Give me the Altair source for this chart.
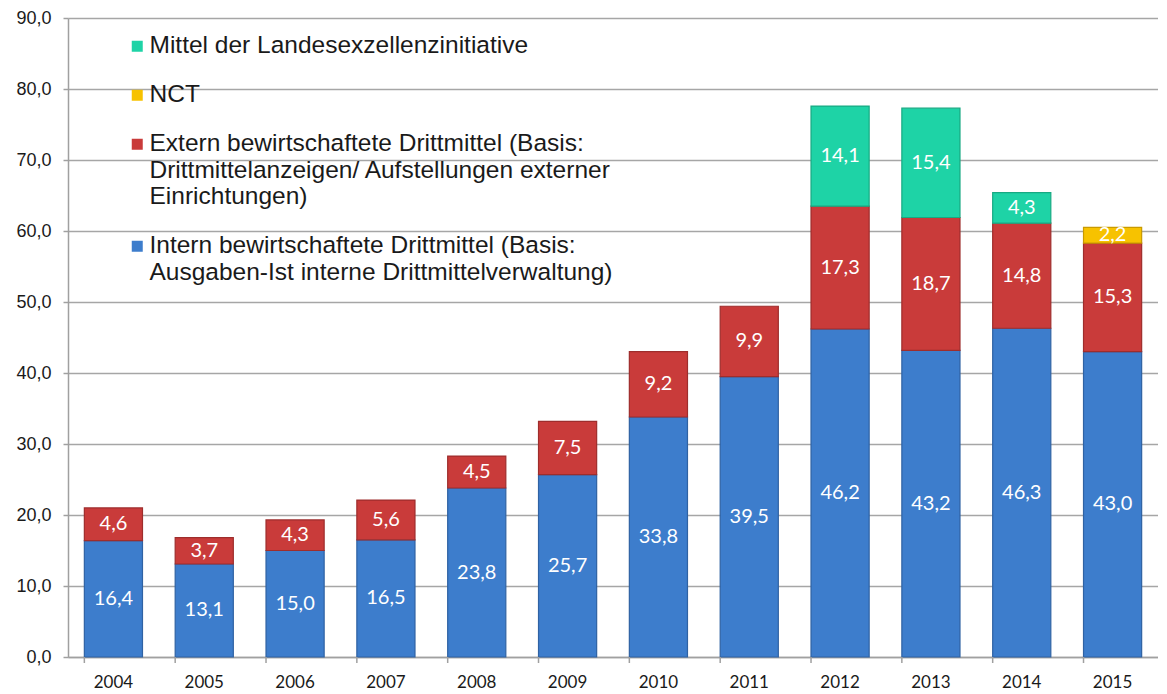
import altair as alt
import pandas as pd

years = [str(y) for y in range(2004, 2016)]
intern = [16.4, 13.1, 15.0, 16.5, 23.8, 25.7, 33.8, 39.5, 46.2, 43.2, 46.3, 43.0]
extern = [4.6, 3.7, 4.3, 5.6, 4.5, 7.5, 9.2, 9.9, 17.3, 18.7, 14.8, 15.3]
nct = [0, 0, 0, 0, 0, 0, 0, 0, 0, 0, 0, 2.2]
landes = [0, 0, 0, 0, 0, 0, 0, 0, 14.1, 15.4, 4.3, 0]

series_names = [
    "Mittel der Landesexzellenzinitiative",
    "NCT",
    "Extern bewirtschaftete Drittmittel (Basis:|Drittmittelanzeigen/ Aufstellungen externer|Einrichtungen)",
    "Intern bewirtschaftete Drittmittel (Basis:|Ausgaben-Ist interne Drittmittelverwaltung)",
]
series_colors = ["#1ed3a6", "#f7c200", "#c93b3a", "#3d7dcc"]
series_strokes = ["#17a982", "#c99a00", "#9e2d2c", "#2f62a3"]
stack_order = [3, 2, 1, 0]
series_values = [landes, nct, extern, intern]

rows = []
for name, vals, order in zip(series_names, series_values, stack_order):
    for yr, v in zip(years, vals):
        if v > 0:
            rows.append({"year": yr, "series": name, "value": v, "order": order})
df = pd.DataFrame(rows)

base = alt.Chart(df).transform_stack(
    stack="value", groupby=["year"], as_=["y0", "y1"],
    sort=[alt.SortField("order", order="ascending")]
).transform_calculate(
    mid="(datum.y0 + datum.y1) / 2",
    lbl="replace(format(datum.value, '.1f'), '.', ',')"
)

xenc = alt.X("year:N", title=None, sort=years,
             scale=alt.Scale(paddingInner=0.36, paddingOuter=0.18),
             axis=alt.Axis(ticks=False, labelFont="Lato", labelFontSize=17,
                           labelColor="#1a1a1a", labelPadding=17, labelAngle=0,
                           domainColor="#a0a0a0", domainWidth=1.5, grid=False))

yscale = alt.Scale(domain=[0, 90], nice=False)

bars = base.mark_bar(strokeWidth=1.2).encode(
    x=xenc,
    y=alt.Y("y0:Q", title=None, scale=yscale,
            axis=alt.Axis(values=list(range(0, 91, 10)),
                          labelExpr="replace(format(datum.value, '.1f'), '.', ',')",
                          labelFont="Liberation Sans", labelFontSize=18,
                          labelColor="#1a1a1a", labelPadding=12,
                          tickSize=5, tickColor="#a0a0a0", tickWidth=1.5,
                          domainColor="#a0a0a0", domainWidth=1.5,
                          gridColor="#a6a6a6", gridWidth=1.5)),
    y2="y1:Q",
    color=alt.Color("series:N", scale=alt.Scale(domain=series_names, range=series_colors),
                    legend=alt.Legend(title=None, orient="none", legendX=57, legendY=16,
                                      labelExpr="split(datum.label, '|')",
                                      labelFont="Liberation Sans", labelFontSize=24.5,
                                      labelColor="#1a1a1a", labelLimit=900,
                                      labelBaseline="middle",
                                      symbolType="square", symbolSize=121,
                                      symbolStrokeWidth=0, rowPadding=24,
                                      labelOffset=0)),
    stroke=alt.Stroke("series:N", scale=alt.Scale(domain=series_names, range=series_strokes),
                      legend=None),
    order=alt.Order("order:Q"),
)

labels = base.mark_text(color="white", font="Lato", fontSize=20).encode(
    x=alt.X("year:N", sort=years),
    y=alt.Y("mid:Q", scale=yscale),
    text="lbl:N",
)

ticks = alt.Chart(pd.DataFrame({"year": years})).mark_rule(
    color="#a0a0a0", strokeWidth=1.5
).encode(
    x=alt.X("year:N", sort=years, bandPosition=0),
    y=alt.value(639),
    y2=alt.value(645),
)

chart = alt.layer(bars, labels, ticks).properties(
    width=1090, height=639,
    autosize=alt.AutoSizeParams(type="none"),
    padding={"left": 60, "top": 10, "right": 0, "bottom": 36},
).configure_view(stroke=None)

chart.save("out.html", embed_options={"renderer": "svg", "actions": False})
